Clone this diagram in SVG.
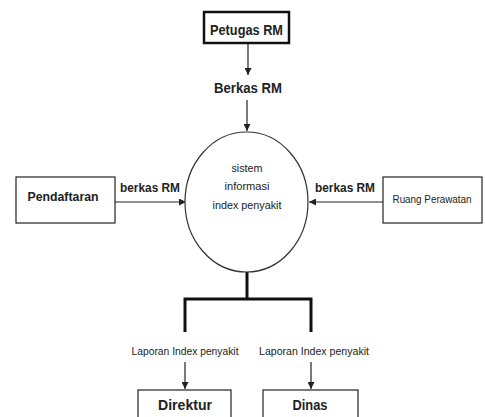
<svg xmlns="http://www.w3.org/2000/svg" width="485" height="417" viewBox="0 0 485 417">
<defs>
<marker id="ah" viewBox="0 0 10 10" refX="10" refY="5" markerWidth="7" markerHeight="7" orient="auto" markerUnits="userSpaceOnUse"><path d="M0,0 L10,5 L0,10 z" fill="#222"/></marker>
</defs>
<style>
text{font-family:"Liberation Sans","DejaVu Sans",sans-serif;fill:#222;text-anchor:middle}
.b{font-weight:bold}
.box{fill:#fff;stroke:#222;stroke-width:1.2}
.c{fill:none;stroke:#222;stroke-width:1.2}
.t{fill:none;stroke:#111;stroke-width:3}
</style>
<rect width="485" height="417" fill="#fff"/>
<g id="connectors">
<line class="c" x1="248" y1="43" x2="248" y2="75" marker-end="url(#ah)"/>
<line class="c" x1="247" y1="100" x2="247" y2="131" marker-end="url(#ah)"/>
<line class="c" x1="115" y1="202" x2="186" y2="202" stroke-width="2" marker-end="url(#ah)"/>
<line class="c" x1="383" y1="202" x2="309" y2="202" stroke-width="2" marker-end="url(#ah)"/>
<polyline class="t" points="247,272 247,299"/>
<polyline class="t" points="185,332 185,299 311,299 311,332"/>
<line class="c" x1="185" y1="362" x2="185" y2="389" marker-end="url(#ah)"/>
<line class="c" x1="311" y1="362" x2="311" y2="389" marker-end="url(#ah)"/>
<text class="b" x="248" y="93" font-size="14" textLength="68" lengthAdjust="spacingAndGlyphs">Berkas RM</text>
<text class="b" x="150" y="192" font-size="12" textLength="60" lengthAdjust="spacingAndGlyphs">berkas RM</text>
<text class="b" x="345" y="192" font-size="12" textLength="60" lengthAdjust="spacingAndGlyphs">berkas RM</text>
<text x="185" y="355" font-size="10" textLength="107" lengthAdjust="spacingAndGlyphs">Laporan Index penyakit</text>
<text x="314" y="355" font-size="10" textLength="110" lengthAdjust="spacingAndGlyphs">Laporan Index penyakit</text>
</g>
<g id="petugas">
<rect x="204" y="12" width="85" height="31" fill="#fff" stroke="#111" stroke-width="2.5"/>
<text class="b" x="246.5" y="35" font-size="14" textLength="73" lengthAdjust="spacingAndGlyphs">Petugas RM</text>
</g>
<g id="sistem">
<ellipse cx="246.5" cy="202" rx="61.5" ry="70" fill="#fff" stroke="#333" stroke-width="1.2"/>
<text x="247" y="172" font-size="11" textLength="31" lengthAdjust="spacingAndGlyphs">sistem</text>
<text x="247" y="190" font-size="11" textLength="45" lengthAdjust="spacingAndGlyphs">informasi</text>
<text x="247" y="209" font-size="11" textLength="69" lengthAdjust="spacingAndGlyphs">index penyakit</text>
</g>
<g id="pendaftaran">
<rect class="box" x="16" y="177" width="99" height="46"/>
<text class="b" x="63" y="201" font-size="12" textLength="71" lengthAdjust="spacingAndGlyphs">Pendaftaran</text>
</g>
<g id="ruang">
<rect class="box" x="383" y="177" width="99" height="46"/>
<text x="432" y="203" font-size="11" textLength="79" lengthAdjust="spacingAndGlyphs">Ruang Perawatan</text>
</g>
<g id="direktur">
<rect class="box" x="138" y="390" width="93" height="30"/>
<text class="b" x="185" y="410" font-size="15" textLength="54" lengthAdjust="spacingAndGlyphs">Direktur</text>
</g>
<g id="dinas">
<rect class="box" x="263" y="390" width="95" height="30"/>
<text class="b" x="310" y="410" font-size="15" textLength="35" lengthAdjust="spacingAndGlyphs">Dinas</text>
</g>
</svg>
